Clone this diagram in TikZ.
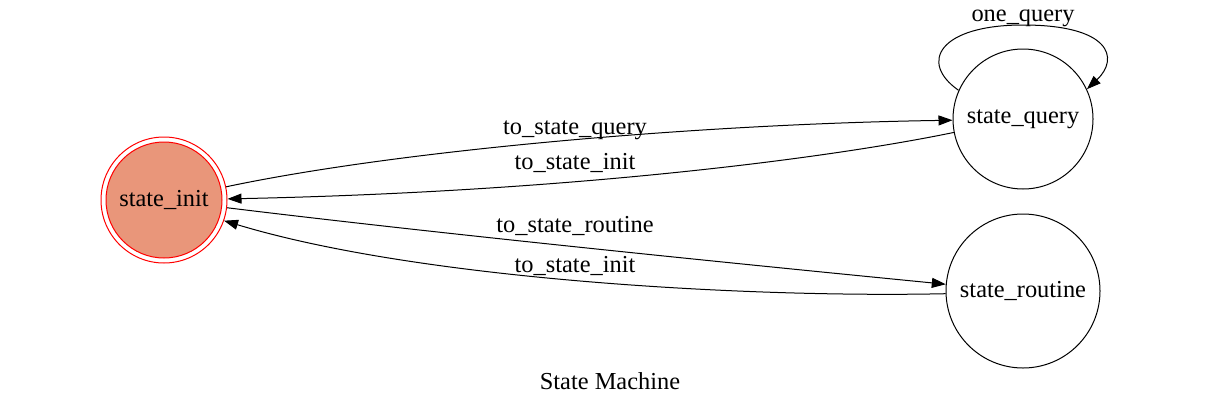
\documentclass[tikz,border=0pt]{standalone}
\usepackage{fontspec}
\setmainfont{Liberation Serif}
\usetikzlibrary{arrows.meta}
\definecolor{dsalmon}{RGB}{233,150,122}
\begin{document}
\begin{tikzpicture}[x=1pt,y=-1pt,
  every node/.style={font=\fontsize{24.4}{28}\selectfont, inner sep=0pt},
  state/.style={circle, draw=black, line width=1pt},
  lbl/.style={anchor=base},
  edge/.style={line width=1pt, -{Triangle[length=14pt,width=10pt]}}]
\useasboundingbox (0,0) rectangle (1221,405);
\node[circle, draw=red, line width=1pt, minimum size=126pt] (init) at (164,200) {};
\node[circle, draw=red, fill=dsalmon, line width=1pt, minimum size=116pt] (initin) at (164,200) {state\_init};
\node[state, minimum size=140pt] (query) at (1023,119) {state\_query};
\node[state, minimum size=154pt] (routine) at (1023,291) {state\_routine};
\draw[edge] (init.12) .. controls (400,150) and (700,124) .. (query.181);
\draw[edge] (query.191) .. controls (820,160) and (560,192) .. (init.1);
\draw[edge] (init.-7) .. controls (450,235) and (750,265) .. (routine.175);
\draw[edge] (routine.182) .. controls (750,298) and (420,280) .. (init.-19);
\draw[edge] (query.156) .. controls (918,62) and (940,25) .. (1023,25) .. controls (1110,25) and (1120,58) .. (query.25);
\node[lbl] (l1) at (575,134) {to\_state\_query};
\node[lbl] (l2) at (575,169) {to\_state\_init};
\node[lbl] (l3) at (575,232) {to\_state\_routine};
\node[lbl] (l4) at (575,272) {to\_state\_init};
\node[lbl] (l5) at (1023,21) {one\_query};
\node[lbl] (title) at (610,389) {State Machine};
\end{tikzpicture}
\end{document}
